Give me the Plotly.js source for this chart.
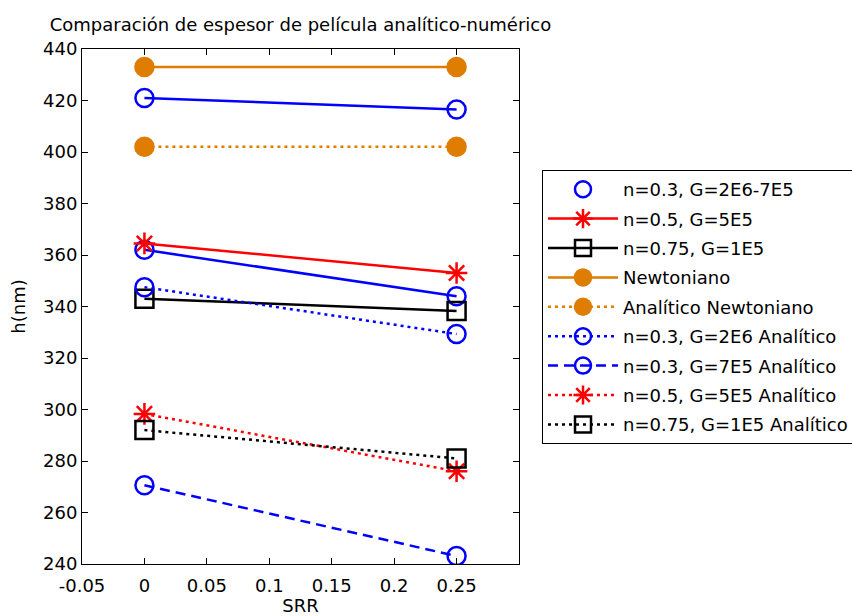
<!DOCTYPE html>
<html>
<head>
<meta charset="utf-8">
<script src="https://cdn.plot.ly/plotly-3.0.1.min.js"></script>
<style>html,body{margin:0;padding:0;background:#fff;}#chart{width:852px;height:616px;}</style>
</head>
<body>
<div id="chart"></div>
<script>
// ---- data ----
var srr = [0, 0.25];
var names = [
  "n=0.3, G=2E6-7E5",
  "n=0.5, G=5E5",
  "n=0.75, G=1E5",
  "Newtoniano",
  "Analítico Newtoniano",
  "n=0.3, G=2E6 Analítico",
  "n=0.3, G=7E5 Analítico",
  "n=0.5, G=5E5 Analítico",
  "n=0.75, G=1E5 Analítico"
];
var h_n03_G2E6_num = [421, 416.5];
var h_n03_G7E5_num = [362, 344];
var h_n05_num = [364.5, 353];
var h_n075_num = [343, 338.3];
var h_newt_num = [433, 433];
var h_newt_an = [402, 402];
var h_n03_G2E6_an = [347.5, 329.3];
var h_n03_G7E5_an = [270.6, 243.1];
var h_n05_an = [298.3, 276];
var h_n075_an = [292, 281];
var xTickVals = [-0.05, 0, 0.05, 0.1, 0.15, 0.2, 0.25];
var xTickText = ["-0.05", "0", "0.05", "0.1", "0.15", "0.2", "0.25"];

var BLUE = "#0000FF", RED = "#FF0000", BLACK = "#000000", ORANGE = "rgb(222,125,0)";
var LW = 2.5, MS = 18;
var DOT = "3px,4px", DASH = "10px,6px";

function tr(x, y, name, color, dash, symbol, showlegend, mode) {
  return {
    x: x, y: y, name: name, type: "scatter", mode: mode || "lines+markers",
    showlegend: showlegend, legendgroup: name,
    line: {color: color, width: LW, dash: dash},
    marker: {symbol: symbol, size: MS, color: color, line: {color: color, width: LW}}
  };
}

var data = [
  tr(srr, h_n03_G2E6_num, names[0] + " a", BLUE, "solid", "circle-open", false, "lines"),
  tr(srr, h_n03_G7E5_num, names[0] + " b", BLUE, "solid", "circle-open", false, "lines"),
  tr(srr.concat(srr), h_n03_G2E6_num.concat(h_n03_G7E5_num), names[0], BLUE, "solid", "circle-open", true, "markers"),
  tr(srr, h_n05_num, names[1], RED, "solid", "asterisk-open", true),
  tr(srr, h_n075_num, names[2], BLACK, "solid", "square-open", true),
  tr(srr, h_newt_num, names[3], ORANGE, "solid", "circle", true),
  tr(srr, h_newt_an, names[4], ORANGE, DOT, "circle", true),
  tr(srr, h_n03_G2E6_an, names[5], BLUE, DOT, "circle-open", true),
  tr(srr, h_n03_G7E5_an, names[6], BLUE, DASH, "circle-open", true),
  tr(srr, h_n05_an, names[7], RED, DOT, "asterisk-open", true),
  tr(srr, h_n075_an, names[8], BLACK, DOT, "square-open", true)
];

var FONT = "DejaVu Sans, sans-serif";
var FS = 18;
var layout = {
  width: 852, height: 616,
  margin: {l: 82, r: 333, t: 49, b: 52},
  paper_bgcolor: "#fff", plot_bgcolor: "#fff",
  font: {family: FONT, size: FS, color: "#000"},
  title: {text: "Comparación de espesor de película analítico-numérico",
          x: 0.5, xref: "paper", xanchor: "center", y: 1 - 25/616, yref: "container", yanchor: "middle",
          font: {family: FONT, size: FS, color: "#000"}},
  xaxis: {range: [-0.05, 0.3], showgrid: false, zeroline: false,
          showline: true, linecolor: "#000", linewidth: 1, mirror: "ticks",
          ticks: "inside", ticklen: 6, tickcolor: "#000",
          tickvals: xTickVals, ticktext: xTickText, ticklabelstandoff: 5,
          title: {text: "SRR", standoff: 8, font: {size: FS}}, automargin: false},
  yaxis: {range: [240, 440], dtick: 20, showgrid: false, zeroline: false,
          showline: true, linecolor: "#000", linewidth: 1, mirror: "ticks",
          ticks: "inside", ticklen: 6, tickcolor: "#000",
          title: {text: "h(nm)", standoff: 12, font: {size: FS}}, automargin: false},
  legend: {x: 542 / 852, xref: "container", xanchor: "left",
           y: 1 - 170 / 616, yref: "container", yanchor: "top",
           bordercolor: "#000", borderwidth: 1, bgcolor: "#fff",
           itemwidth: 70, traceorder: "grouped", tracegroupgap: 3,
           font: {family: FONT, size: FS, color: "#000"}}
};

Plotly.newPlot("chart", data, layout, {displayModeBar: false, staticPlot: true});
</script>
</body>
</html>
